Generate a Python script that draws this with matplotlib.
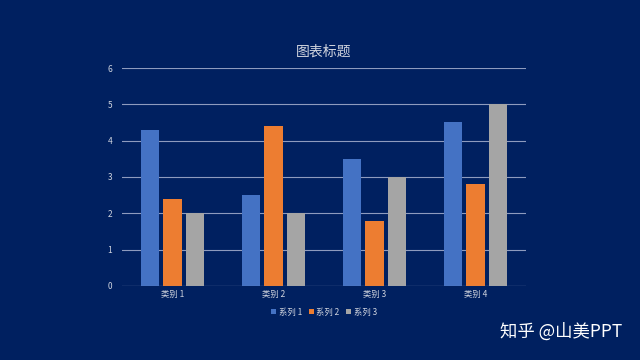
import numpy as np
import matplotlib.pyplot as plt

plt.rcParams['font.family'] = ['Noto Sans CJK SC', 'DejaVu Sans']

categories = ['类别 1', '类别 2', '类别 3', '类别 4']
series_names = ['系列 1', '系列 2', '系列 3']
series1 = [4.3, 2.5, 3.5, 4.5]
series2 = [2.4, 4.4, 1.8, 2.8]
series3 = [2.0, 2.0, 3.0, 5.0]
colors = ['#4472C4', '#ED7D31', '#A5A5A5']

bg = '#002060'
text_color = '#D0D4DE'

fig = plt.figure(figsize=(6.4, 3.6), dpi=100, facecolor=bg)
ax = fig.add_axes([0.1906, 0.2056, 0.6313, 0.6055], facecolor=bg)

x = np.arange(len(categories))
width = 0.18
step = 0.22
for i, (vals, name) in enumerate(zip([series1, series2, series3], series_names)):
    ax.bar(x + (i - 1) * step, vals, width, color=colors[i], label=name, zorder=3)

ax.set_xlim(-0.5, 3.5)
ax.set_ylim(0, 6)
ax.set_yticks(range(7))
ax.set_xticks(x)
ax.set_xticklabels(categories)
ax.grid(axis='y', color='#8E9BBE', linewidth=0.8, zorder=0)
for s in ax.spines.values():
    s.set_visible(False)
ax.axhline(0, color='#8E9BBE', linewidth=0.8, zorder=4)
ax.tick_params(axis='both', length=0, colors=text_color, labelsize=6)
ax.tick_params(axis='y', pad=7)
ax.tick_params(axis='x', pad=3)

ax.set_title('图表标题', color=text_color, fontsize=10, pad=9)

leg = ax.legend(loc='upper center', bbox_to_anchor=(0.5, -0.065), ncol=3,
                frameon=False, fontsize=6, handlelength=0.6, handleheight=0.6,
                handletextpad=0.3, columnspacing=0.8, labelcolor=text_color)

fig.text(0.973, 0.078, '知乎 @山美PPT', color='white', fontsize=12.5,
         ha='right', va='center')

fig.savefig('out.png', dpi=100, facecolor=bg)
